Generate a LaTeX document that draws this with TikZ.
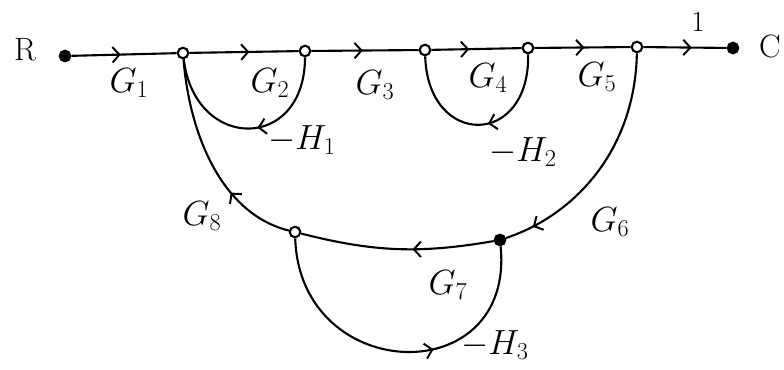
\documentclass[tikz,border=0pt]{standalone}
\usepackage{tikz}
\usetikzlibrary{arrows.meta, decorations.markings}

\begin{document}
\begin{tikzpicture}[
        x=0.025cm, y=-0.025cm,
        junc/.style={circle, draw, line width=1.5pt, minimum size=7.5pt, inner sep=0pt, fill=white},
        endpt/.style={junc, fill=black},
        branch/.style={line width=1.5pt},
        arr/.style={postaction={decorate, decoration={markings,
            mark=at position #1 with {\arrow{Straight Barb[length=5pt, width=11pt, line width=1.4pt]}}}}},
        arr/.default=0.5,
        gain/.style={font=\fontsize{23}{27}\selectfont}
    ]
        \useasboundingbox (0,0) rectangle (784,369);

        % Cac nut
        \node [endpt] (R) at (65,56) {};
        \node [junc] (n2) at (183,53) {};
        \node [junc] (n3) at (305,51) {};
        \node [junc] (n4) at (425,50) {};
        \node [junc] (n5) at (528,48) {};
        \node [junc] (n6) at (637,47) {};
        \node [endpt] (C) at (733,48) {};
        \node [junc] (n7) at (295,232) {};
        \node [endpt] (n8) at (500,240) {};

        \node [gain] (lR) at (25,50) {R};
        \node [gain] (lC) at (770,46) {C};

        % Duong thuan
        \draw[branch, arr=0.47] (R) -- (n2);
        \draw[branch, arr=0.55] (n2) -- (n3);
        \draw[branch, arr=0.48] (n3) -- (n4);
        \draw[branch, arr=0.42] (n4) -- (n5);
        \draw[branch, arr=0.52] (n5) -- (n6);
        \draw[branch, arr=0.58] (n6) -- (C);

        % Cac vong hoi tiep
        \draw[branch, arr=0.45] (n3) .. controls (305,152) and (195,152) .. (n2);
        \draw[branch, arr=0.45] (n5) .. controls (530,148) and (428,148) .. (n4);
        \draw[branch, arr=0.88] (n6) .. controls (635,150) and (575,215) .. (n8);
        \draw[branch, arr=0.42] (n8) to[bend left=12] (n7);
        \draw[branch, arr=0.6] (n7) .. controls (300,385) and (515,392) .. (n8);
        \draw[branch, arr=0.33] (n7) .. controls (225,215) and (190,140) .. (n2);

        % Nhan
        \node [gain] (g1) at (129,83) {$G_1$};
        \node [gain] (g2) at (270,83) {$G_2$};
        \node [gain] (g3) at (375,85) {$G_3$};
        \node [gain] (g4) at (488,78) {$G_4$};
        \node [gain] (g5) at (597,77) {$G_5$};
        \node [font=\huge] (g0) at (698,22) {1};
        \node [gain] (h1) at (302,140) {$-H_1$};
        \node [gain] (h2) at (523,152) {$-H_2$};
        \node [gain] (g6) at (610,222) {$G_6$};
        \node [gain] (g7) at (448,285) {$G_7$};
        \node [gain] (g8) at (202,216) {$G_8$};
        \node [gain] (h3) at (495,345) {$-H_3$};
    \end{tikzpicture}
\end{document}
